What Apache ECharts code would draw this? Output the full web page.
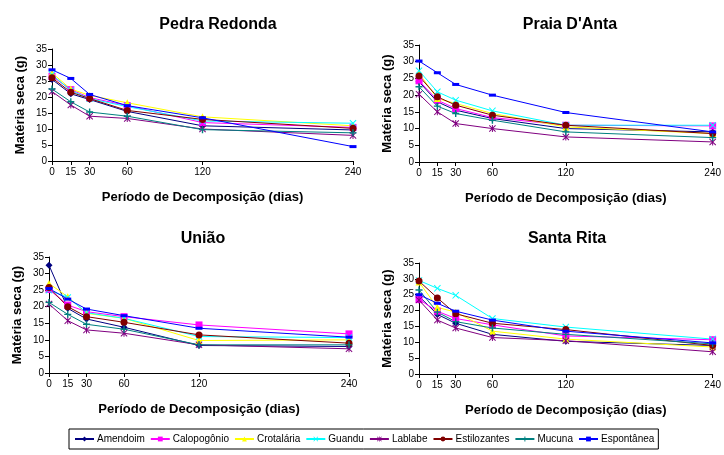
<!DOCTYPE html>
<html><head><meta charset="utf-8">
<script src="https://cdn.jsdelivr.net/npm/echarts@6/dist/echarts.min.js"></script>
<style>html,body{margin:0;padding:0;background:#fff}#c{width:724px;height:455px}</style>
</head><body><div id="c"></div>
<script>
const days = [0, 15, 30, 60, 120, 240];
const dayTicks = [0, 15, 30, 60, 120, 240];
const seriesNames = ['Amendoim','Calopogônio','Crotalária','Guandu','Lablabe','Estilozantes','Mucuna','Espontânea'];
const siteNames = ['Pedra Redonda', "Praia D'Anta", 'União', 'Santa Rita'];
// values per site, in seriesNames order
const pedraRedonda = [
  [25.5, 21, 19.2, 15.5, 11, 9.7],
  [26.5, 22.3, 19.8, 17.3, 12, 10.5],
  [27.5, 22.5, 20.5, 18.2, 13.8, 11],
  [27, 22, 19.5, 17, 12.5, 11.8],
  [21.7, 17.5, 14, 13.3, 10, 8],
  [26, 21.5, 19.5, 15.8, 13, 10.2],
  [22.5, 18.5, 15.3, 14, 9.8, 8.8],
  [28.5, 25.8, 20.8, 17.3, 13.5, 4.5]
];
const praiaDAnta = [
  [24, 18, 15.5, 13, 10, 9],
  [24.3, 18.5, 16, 13.3, 11, 10.8],
  [26.5, 19, 17.5, 14.5, 10.5, 8.5],
  [27.3, 21, 18.5, 15.3, 11, 11],
  [20.3, 15, 11.5, 10, 7.5, 6],
  [25.7, 19.5, 17, 14, 11, 8.5],
  [22.5, 16.7, 14.5, 12.5, 9, 7.3],
  [30.2, 26.7, 23.2, 20, 14.8, 9]
];
const uniao = [
  [32.5, 19.5, 16.3, 13.8, 8.3, 8],
  [25.2, 20.5, 18.5, 17, 14.5, 11.8],
  [27, 23, 18, 16.5, 9.8, 10],
  [25, 22.8, 18.2, 16.5, 11, 10.7],
  [20.8, 15.8, 13, 12, 8.5, 7.3],
  [25.8, 20, 17, 15.3, 11.5, 9],
  [21.3, 17.7, 14.7, 13.2, 8.5, 8.5],
  [25.5, 22.3, 19.3, 17.3, 13.5, 10.8]
];
const santaRita = [
  [24.5, 18.8, 16, 12.5, 10.3, 9],
  [23.5, 19.8, 17.5, 15.5, 12, 10.8],
  [29, 21, 19.5, 13.5, 11, 8.5],
  [29.5, 27, 24.8, 17.5, 14.8, 11],
  [23.3, 17, 14.5, 11.5, 10.5, 7],
  [29.3, 24, 19, 16, 14, 9],
  [26.5, 19.5, 16.5, 14.5, 12.5, 9.5],
  [25, 22.3, 19.8, 17, 13.5, 9.8]
];
const siteData = [pedraRedonda, praiaDAnta, uniao, santaRita];

const colors = ['#000080','#FF00FF','#FFFF00','#00FFFF','#800080','#800000','#008080','#0000FF'];
const xPath = 'path://M0,1L1,0L5,4L9,0L10,1L6,5L10,9L9,10L5,6L1,10L0,9L4,5Z';
const starPath = 'path://M0,1L1,0L5,4L9,0L10,1L6,5L10,9L9,10L5,6L1,10L0,9L4,5ZM4.3,0H5.7V10H4.3Z';
const plusPath = 'path://M4,0H6V4H10V6H6V10H4V6H0V4H4Z';
const symbols = ['diamond','rect','triangle',xPath,starPath,'circle',plusPath,'rect'];
const symbolSizes = [7,7,7,7,7,7,7,[7,3]];

const grids = [
  {left: 52, top: 49, width: 301, height: 112},
  {left: 419, top: 45, width: 300, height: 117},
  {left: 49, top: 257, width: 300, height: 116},
  {left: 419, top: 263, width: 296, height: 111}
];
const titlePos = [[213, 12], [565, 12], [198, 226], [562, 226]];

const font = 'Liberation Sans, Arial, sans-serif';
const option = {
  animation: false,
  backgroundColor: '#fff',
  textStyle: {fontFamily: font},
  title: siteNames.map((n, i) => ({
    text: n, left: titlePos[i][0], top: titlePos[i][1], textAlign: 'center',
    textStyle: {fontFamily: font, fontSize: 16, fontWeight: 'bold', color: '#000'}
  })),
  legend: {
    data: seriesNames, left: 69, top: 429, width: 650,
    itemWidth: 19, itemHeight: 6, itemGap: 5,
    padding: [5, 4, 5, 5],
    borderColor: '#000', borderWidth: 1,
    textStyle: {fontFamily: font, fontSize: 10, color: '#000', padding: [0, 0, 0, -2]}
  },
  grid: grids,
  xAxis: grids.map((g, i) => ({
    type: 'value', gridIndex: i, min: 0, max: 240,
    name: 'Período de Decomposição (dias)', nameLocation: 'middle', nameGap: 30,
    nameTextStyle: {fontFamily: font, fontSize: 13, fontWeight: 'bold', color: '#000'},
    axisLine: {lineStyle: {color: '#000', width: 1}},
    axisTick: {show: true, customValues: dayTicks, length: 4, lineStyle: {color: '#000'}},
    axisLabel: {customValues: dayTicks, fontSize: 10, color: '#000', margin: 6, fontFamily: font},
    splitLine: {show: false}
  })),
  yAxis: grids.map((g, i) => ({
    type: 'value', gridIndex: i, min: 0, max: 35, interval: 5,
    name: 'Matéria seca (g)', nameLocation: 'middle', nameGap: 25,
    nameTextStyle: {fontFamily: font, fontSize: 13, fontWeight: 'bold', color: '#000'},
    axisLine: {show: true, lineStyle: {color: '#000', width: 1}},
    axisTick: {show: true, length: 4, lineStyle: {color: '#000'}},
    axisLabel: {fontSize: 10, color: '#000', margin: 5, fontFamily: font},
    splitLine: {show: false}
  })),
  series: []
};
siteData.forEach((site, gi) => {
  seriesNames.forEach((name, si) => {
    option.series.push({
      type: 'line', name: name, xAxisIndex: gi, yAxisIndex: gi,
      data: days.map((d, k) => [d, site[si][k]]),
      color: colors[si],
      symbol: symbols[si], symbolSize: symbolSizes[si],
      lineStyle: {width: 1, color: colors[si]},
      itemStyle: {color: colors[si]}
    });
  });
});
const chart = echarts.init(document.getElementById('c'), null, {renderer: 'canvas'});
chart.setOption(option);
</script>
</body></html>
